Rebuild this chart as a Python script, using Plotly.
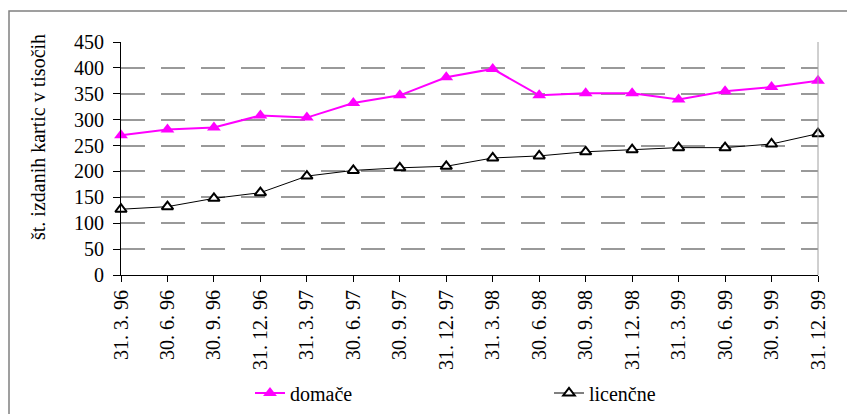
import plotly.graph_objects as go

dates = ["31. 3. 96", "30. 6. 96", "30. 9. 96", "31. 12. 96",
         "31. 3. 97", "30. 6. 97", "30. 9. 97", "31. 12. 97",
         "31. 3. 98", "30. 6. 98", "30. 9. 98", "31. 12. 98",
         "31. 3. 99", "30. 6. 99", "30. 9. 99", "31. 12. 99"]
domace = [270, 281, 285, 308, 304, 332, 347, 382,
          398, 347, 351, 351, 339, 355, 363, 375]
licencne = [127, 132, 148, 159, 191, 202, 207, 210,
            226, 230, 238, 242, 246, 246, 253, 273]
y_ticks = [0, 50, 100, 150, 200, 250, 300, 350, 400, 450]

W, H = 847, 414
L, R, T, B = 121, 29, 42, 139
PW, PH = W - L - R, H - T - B

def px(x):
    return (x - L) / PW

def py(y):
    return (H - B - y) / PH

FONT = "Times New Roman"

fig = go.Figure()
fig.add_trace(go.Scatter(
    x=dates, y=domace, name="domače", mode="lines+markers",
    line=dict(color="#FF00FF", width=2),
    marker=dict(symbol="triangle-up", size=12, color="#FF00FF"),
    cliponaxis=False))
fig.add_trace(go.Scatter(
    x=dates, y=licencne, name="licenčne", mode="lines+markers",
    line=dict(color="#000000", width=1),
    marker=dict(symbol="triangle-up", size=10, color="#FFFFFF",
                line=dict(width=2, color="#000000")),
    cliponaxis=False))

fig.update_layout(
    width=W, height=H,
    margin=dict(l=L, r=R, t=T, b=B, pad=0, autoexpand=False),
    paper_bgcolor="white", plot_bgcolor="white",
    font=dict(family=FONT, size=20, color="black"),
    showlegend=True,
    legend=dict(orientation="h", x=px(250), y=py(393), xanchor="left",
                yanchor="middle", font=dict(family=FONT, size=20, color="black"),
                entrywidth=254, entrywidthmode="pixels",
                bgcolor="rgba(0,0,0,0)"),
    xaxis=dict(type="category", range=[0, 15], showgrid=False, automargin=False,
               showline=True, linecolor="black", linewidth=1,
               ticks="outside", ticklen=6, tickcolor="black", tickwidth=1,
               tickangle=-90, tickfont=dict(family=FONT, size=20, color="black"),
               zeroline=False),
    xaxis2=dict(overlaying="x", anchor="y", side="bottom", range=[0, 15],
                tickmode="array", tickvals=list(range(16)), ticks="inside",
                ticklen=6, tickcolor="black", tickwidth=1, automargin=False,
                showticklabels=False, showgrid=False, showline=False,
                zeroline=False),
    yaxis=dict(range=[0, 450], tickvals=y_ticks, showgrid=True, automargin=False,
               gridcolor="#999999", gridwidth=1.5, griddash="24px,16px",
               showline=True, linecolor="black", linewidth=1,
               ticks="outside", ticklen=7, tickcolor="black",
               ticklabelstandoff=5,
               tickfont=dict(family=FONT, size=20, color="black"),
               zeroline=False),
    shapes=[
        dict(type="line", xref="paper", yref="y", x0=1, x1=1, y0=0, y1=450,
             line=dict(color="#A0A0A0", width=1)),
        dict(type="rect", xref="paper", yref="paper",
             x0=px(9), x1=px(870), y0=py(430), y1=py(11),
             line=dict(color="#808080", width=1.5), fillcolor="rgba(0,0,0,0)",
             layer="below"),
    ],
    annotations=[
        dict(text="št. izdanih kartic v tisočih", xref="paper", yref="paper",
             x=px(38), y=py(137), xanchor="center", yanchor="middle",
             textangle=-90, showarrow=False,
             font=dict(family=FONT, size=20, color="black")),
    ],
)

fig.write_html("out.html", config={"displayModeBar": False},
               post_script="document.body.style.margin='0';document.body.style.padding='0';")
